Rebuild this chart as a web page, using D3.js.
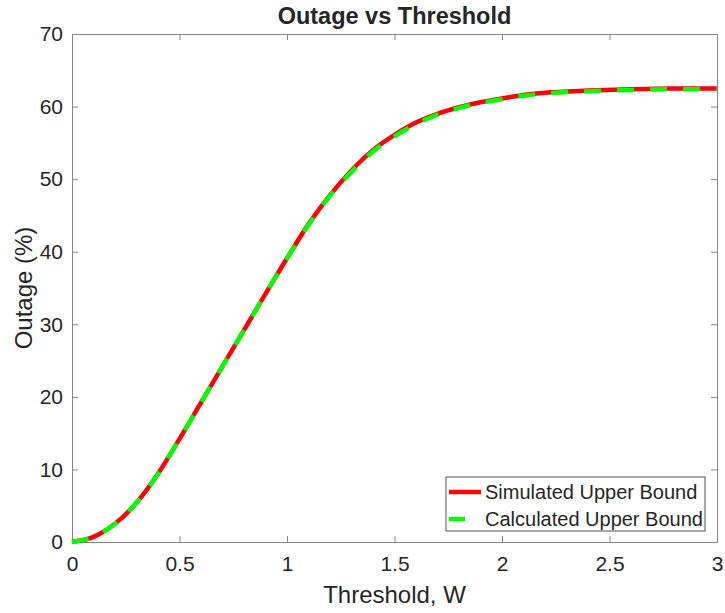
<!DOCTYPE html>
<html>
<head>
<meta charset="utf-8">
<script src="https://cdn.jsdelivr.net/npm/d3@7"></script>
<style>
  body { margin: 0; background: #fff; }
  text { font-family: "Liberation Sans", Arial, sans-serif; fill: #262626; }
</style>
</head>
<body>
<div id="chart-area"></div>
<script>
const threshold = [0, 0.1, 0.2, 0.3, 0.4, 0.5, 0.6, 0.7, 0.8, 0.9, 1.0, 1.1, 1.2, 1.3, 1.4, 1.5,
  1.6, 1.7, 1.8, 1.9, 2.0, 2.1, 2.2, 2.4, 2.6, 2.8, 3.0];
const simulated = [0, 0.7, 2.5, 5.4, 9.4, 14.2, 19.2, 24.2, 29.2, 34.2, 39.1, 43.8, 47.8, 51.2, 54.0, 56.1,
  57.8, 59.0, 59.9, 60.6, 61.1, 61.6, 61.9, 62.2, 62.4, 62.5, 62.5];
const calculated = [0, 0.7, 2.5, 5.4, 9.4, 14.2, 19.2, 24.2, 29.2, 34.2, 39.1, 43.7, 47.7, 51.0, 53.8, 55.9,
  57.6, 58.9, 59.8, 60.5, 61.0, 61.5, 61.8, 62.1, 62.3, 62.4, 62.4];
const xTicks = [0, 0.5, 1, 1.5, 2, 2.5, 3];
const yTicks = [0, 10, 20, 30, 40, 50, 60, 70];
const seriesNames = ["Simulated Upper Bound", "Calculated Upper Bound"];

const margin = {left: 72, right: 8, top: 34, bottom: 71};
const width = 725 - margin.left - margin.right;
const height = 613 - margin.top - margin.bottom;

let svg = d3.select("#chart-area")
  .append("svg")
  .attr("width", 725)
  .attr("height", 613);

let g = svg.append("g")
  .attr("transform", `translate(${margin.left},${margin.top})`);

//scales
let x = d3.scaleLinear().domain([0, 3]).range([0, width]);
let y = d3.scaleLinear().domain([0, 70]).range([height, 0]);

//axes, ticks pointing inward on all four sides
function styleAxis(sel) {
  sel.selectAll(".domain").attr("stroke", "#868686").attr("stroke-width", 1);
  sel.selectAll(".tick line").attr("stroke", "#868686");
  sel.selectAll("text").attr("font-size", "21px").attr("fill", "#262626");
}

g.append("g")
  .attr("transform", `translate(0,${height})`)
  .call(d3.axisBottom(x).tickValues(xTicks).tickSizeInner(-6).tickSizeOuter(0).tickPadding(14).tickFormat(d3.format("")))
  .call(styleAxis);

g.append("g")
  .call(d3.axisTop(x).tickValues(xTicks).tickSizeInner(-6).tickSizeOuter(0).tickFormat(""))
  .call(styleAxis);

g.append("g")
  .call(d3.axisLeft(y).tickValues(yTicks).tickSizeInner(-6).tickSizeOuter(0).tickPadding(9))
  .call(styleAxis);

g.append("g")
  .attr("transform", `translate(${width},0)`)
  .call(d3.axisRight(y).tickValues(yTicks).tickSizeInner(-6).tickSizeOuter(0).tickFormat(""))
  .call(styleAxis);

//lines
let line = d3.line()
  .x((d, i) => x(threshold[i]))
  .y(d => y(d))
  .curve(d3.curveMonotoneX);

g.append("path")
  .datum(simulated)
  .attr("d", line)
  .attr("fill", "none")
  .attr("stroke", "#ff0000")
  .attr("stroke-width", 4.5);

g.append("path")
  .datum(calculated)
  .attr("d", line)
  .attr("fill", "none")
  .attr("stroke", "#00ff00")
  .attr("stroke-width", 4.5)
  .attr("stroke-dasharray", "17,16");

//title
svg.append("text")
  .attr("x", margin.left + width / 2)
  .attr("y", 24)
  .attr("text-anchor", "middle")
  .attr("font-size", "23.5px")
  .attr("font-weight", "bold")
  .attr("fill", "#000")
  .text("Outage vs Threshold");

//x label
svg.append("text")
  .attr("x", margin.left + width / 2)
  .attr("y", 603)
  .attr("text-anchor", "middle")
  .attr("font-size", "24px")
  .text("Threshold, W");

//y label
svg.append("text")
  .attr("transform", `translate(32,${margin.top + height / 2}) rotate(-90)`)
  .attr("text-anchor", "middle")
  .attr("font-size", "24px")
  .text("Outage (%)");

//legend
let legend = svg.append("g").attr("transform", "translate(446,477)");
legend.append("rect")
  .attr("width", 259)
  .attr("height", 54)
  .attr("fill", "#fff")
  .attr("stroke", "#262626")
  .attr("stroke-width", 0.8);

const legendColors = ["#ff0000", "#00ff00"];
seriesNames.forEach((name, i) => {
  let row = legend.append("g").attr("transform", `translate(0,${15 + i * 27})`);
  row.append("line")
    .attr("x1", 3).attr("x2", i === 0 ? 35 : 19)
    .attr("stroke", legendColors[i])
    .attr("stroke-width", 4.5);
  row.append("text")
    .attr("x", 39)
    .attr("y", 7)
    .attr("font-size", "20px")
    .attr("fill", "#000")
    .text(name);
});
</script>
</body>
</html>
